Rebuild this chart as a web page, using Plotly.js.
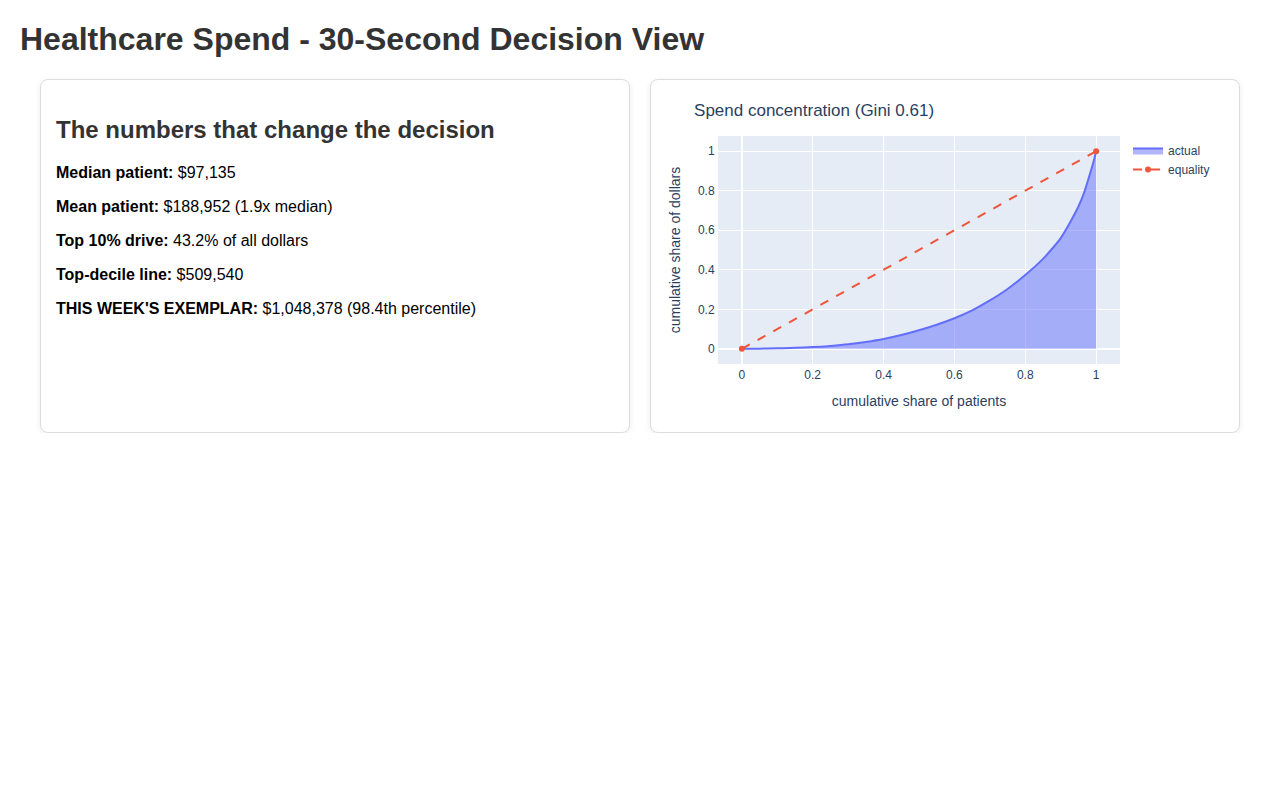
<!DOCTYPE html>
<html>
<head>
<meta charset="utf-8">
<script src="https://cdn.plot.ly/plotly-3.0.1.min.js"></script>
<style>
	body {
		margin: 0 20px;
		font-family: "Liberation Sans", Arial, Helvetica, sans-serif;
		background: #fff;
	}
	h1 {
		color: #333;
		font-size: 32px;
		margin: 0;
		padding: 21px 0;
	}
	.grid {
		display: grid;
		grid-template-columns: minmax(0, 1fr) minmax(0, 1fr);
		gap: 20px;
		padding: 0 20px;
	}
	.card {
		border: 1px solid #ddd;
		border-radius: 8px;
		box-shadow: 0 2px 6px rgba(0, 0, 0, 0.08);
		padding: 16px 15px;
		background: #fff;
		min-width: 0;
	}
	.card h2 {
		color: #333;
		font-size: 24px;
		margin: 20px 0;
	}
	.card p {
		font-size: 16px;
		margin: 16px 0;
		color: #000;
	}
	#lorenz {
		width: 561px;
		height: 320px;
	}
</style>
</head>
<body>
<h1>Healthcare Spend - 30-Second Decision View</h1>
<div class="grid">
	<div class="card">
		<h2>The numbers that change the decision</h2>
		<div id="facts"></div>
	</div>
	<div class="card">
		<div id="lorenz"></div>
	</div>
</div>
<script>
// headline numbers
var factLabels = ['Median patient:', 'Mean patient:', 'Top 10% drive:', 'Top-decile line:', "THIS WEEK'S EXEMPLAR:"];
var factValues = ['$97,135', '$188,952 (1.9x median)', '43.2% of all dollars', '$509,540', '$1,048,378 (98.4th percentile)'];

// lorenz curve
var shareOfPatients = [0, 0.05, 0.1, 0.15, 0.2, 0.25, 0.3, 0.35, 0.4, 0.45, 0.5, 0.55, 0.6, 0.65, 0.7, 0.75, 0.8, 0.85, 0.875, 0.9, 0.925, 0.95, 0.965, 0.98, 0.99, 1];
var shareOfDollars = [0, 0.001, 0.003, 0.005, 0.009, 0.015, 0.023, 0.035, 0.05, 0.07, 0.094, 0.122, 0.155, 0.195, 0.245, 0.303, 0.373, 0.455, 0.505, 0.56, 0.635, 0.72, 0.785, 0.87, 0.93, 1];
var equalityX = [0, 1];
var equalityY = [0, 1];
var giniValue = 0.61;


function fillFacts() {
	var box = document.getElementById('facts');
	for (var i = 0; i < factLabels.length; i++) {
		var p = document.createElement('p');
		var b = document.createElement('b');
		b.textContent = factLabels[i];
		p.appendChild(b);
		p.appendChild(document.createTextNode(' ' + factValues[i]));
		box.appendChild(p);
	}
}


function drawLorenz() {
	var data = [
		{
			x: shareOfPatients,
			y: shareOfDollars,
			name: 'actual',
			type: 'scatter',
			mode: 'lines',
			fill: 'tozeroy',
			line: {color: '#636efa', width: 2, shape: 'spline', smoothing: 1}
		},
		{
			x: equalityX,
			y: equalityY,
			name: 'equality',
			type: 'scatter',
			mode: 'lines+markers',
			line: {color: '#EF553B', dash: 'dash', width: 2},
			marker: {color: '#EF553B', size: 6}
		}
	];

	// plotly.py look: blue-grey plot area, white grid
	var axisStyle = {
		gridcolor: 'white',
		zerolinecolor: 'white',
		zerolinewidth: 2,
		linecolor: 'white',
		ticks: ''
	};
	var layout = {
		title: {text: 'Spend concentration (Gini ' + giniValue + ')', x: 0.05, xanchor: 'left', font: {size: 17}},
		font: {color: '#2a3f5f', family: 'Arial, "Liberation Sans", sans-serif', size: 12},
		paper_bgcolor: 'white',
		plot_bgcolor: '#E5ECF6',
		margin: {l: 52, r: 98, t: 40, b: 52},
		xaxis: Object.assign({title: {text: 'cumulative share of patients', standoff: 14}, automargin: false}, axisStyle),
		yaxis: Object.assign({title: {text: 'cumulative share of dollars'}, automargin: true}, axisStyle),
		legend: {x: 1.02, y: 1},
		showlegend: true
	};

	Plotly.newPlot('lorenz', data, layout, {displayModeBar: false});
}

fillFacts();
drawLorenz();
</script>
</body>
</html>
